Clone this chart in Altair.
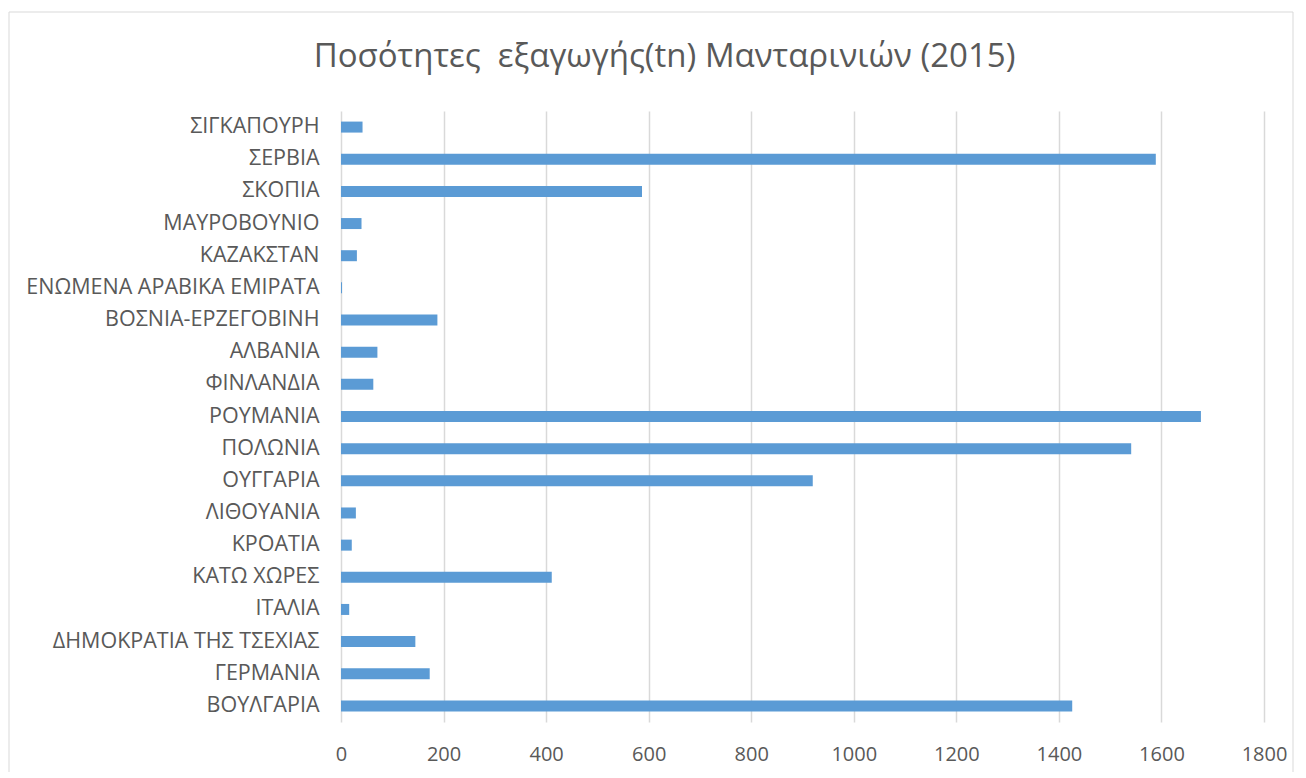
import altair as alt
import pandas as pd

countries = [
    "ΣΙΓΚΑΠΟΥΡΗ", "ΣΕΡΒΙΑ", "ΣΚΟΠΙΑ", "ΜΑΥΡΟΒΟΥΝΙΟ", "ΚΑΖΑΚΣΤΑΝ",
    "ΕΝΩΜΕΝΑ ΑΡΑΒΙΚΑ ΕΜΙΡΑΤΑ", "ΒΟΣΝΙΑ-ΕΡΖΕΓΟΒΙΝΗ", "ΑΛΒΑΝΙΑ", "ΦΙΝΛΑΝΔΙΑ",
    "ΡΟΥΜΑΝΙΑ", "ΠΟΛΩΝΙΑ", "ΟΥΓΓΑΡΙΑ", "ΛΙΘΟΥΑΝΙΑ", "ΚΡΟΑΤΙΑ", "ΚΑΤΩ ΧΩΡΕΣ",
    "ΙΤΑΛΙΑ", "ΔΗΜΟΚΡΑΤΙΑ ΤΗΣ ΤΣΕΧΙΑΣ", "ΓΕΡΜΑΝΙΑ", "ΒΟΥΛΓΑΡΙΑ",
]
tonnes = [42, 1589, 587, 40, 31, 2, 188, 71, 63, 1677, 1541, 920, 29, 21, 411, 16, 145, 173, 1426]
x_ticks = [0, 200, 400, 600, 800, 1000, 1200, 1400, 1600, 1800]
title_text = "Ποσότητες \u00a0εξαγωγής(tn) Μανταρινιών (2015)"

df = pd.DataFrame({"country": countries, "tn": tonnes})

FONT = "Open Sans"
GREY = "#595959"

bars = alt.Chart(df).mark_bar(size=11, color="#5B9BD5").encode(
    x=alt.X("tn:Q",
            scale=alt.Scale(domain=[0, 1800], nice=False, zero=True),
            axis=alt.Axis(values=x_ticks, format="d", title=None, grid=True,
                          gridColor="#D9D9D9", gridWidth=1.5, domain=False, ticks=False,
                          labelFont=FONT, labelFontSize=20, labelColor=GREY,
                          labelPadding=22, labelFlush=False)),
    y=alt.Y("country:N", sort=countries,
            scale=alt.Scale(paddingInner=0, paddingOuter=0),
            axis=alt.Axis(title=None, domain=False, ticks=False, grid=False,
                          labelFont=FONT, labelFontSize=21.5, labelColor=GREY,
                          labelPadding=22, labelLimit=400)),
)

frame = alt.Chart(pd.DataFrame({"a": [0]})).mark_rect(
    fill="transparent", stroke="#D9D9D9", strokeWidth=1, clip=False
).encode(x=alt.value(-332), x2=alt.value(952), y=alt.value(-99), y2=alt.value(680))

chart = alt.layer(frame, bars).properties(
    width=923,
    height=611,
    background="white",
    title=alt.TitleParams(
        title_text,
        font=FONT, fontSize=33, fontWeight="normal", color=GREY,
        anchor="middle", dx=-138, offset=-62,
    ),
    autosize=alt.AutoSizeParams(type="none"),
    padding={"left": 333, "top": 103, "right": 30, "bottom": 50},
).configure_view(stroke="transparent", strokeWidth=0)

chart.save("out.html", embed_options={"renderer": "svg", "actions": False})
